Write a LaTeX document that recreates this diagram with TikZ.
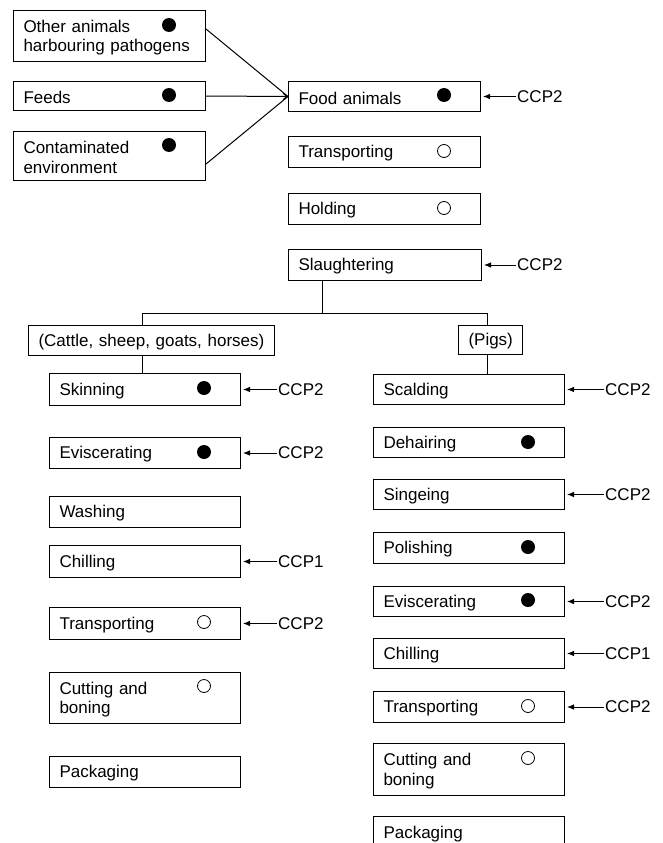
\documentclass[tikz,border=0pt]{standalone}
\usepackage{fontspec}
\setmainfont{Liberation Sans}
\usetikzlibrary{arrows.meta,calc}
\newcommand\fs{\fontsize{17}{19.5}\selectfont}
\tikzset{
  box/.style={draw, line width=1pt, anchor=north west, inner xsep=10pt, inner ysep=0pt, align=left, font=\fs, text height=15.5pt},
  dotf/.style={circle, fill, inner sep=0pt, minimum size=14pt},
  doto/.style={circle, draw, line width=0.8pt, inner sep=0pt, minimum size=13pt},
  ccp/.style={anchor=west, inner sep=0pt, font=\fs},
  link/.style={line width=1pt},
  ccparrow/.style={line width=0.8pt, -{Latex[length=7pt,width=5.5pt]}, shorten >=2pt}
}
\begin{document}
\begin{tikzpicture}[x=1pt,y=-1pt]
\fill[white] (0,0) rectangle (663,843);
\useasboundingbox (0,0) rectangle (663,843);
\clip (0,0) rectangle (663,843);

% top-left inputs
\node[box, text width=172pt, minimum height=51pt] (oth) at (13,10) {Other animals\\harbouring pathogens};
\node[box, text width=172pt, minimum height=29pt] (fee) at (13,81) {Feeds};
\node[box, text width=172pt, minimum height=49pt] (con) at (13,131) {Contaminated\\environment};

% main column
\node[box, text width=172pt, minimum height=30pt] (foo) at (288,81) {Food animals};
\node[box, text width=172pt, minimum height=31pt] (tra) at (288,136) {Transporting};
\node[box, text width=172pt, minimum height=31pt] (hol) at (288,193) {Holding};
\node[box, text width=173pt, minimum height=31pt] (sla) at (288,249) {Slaughtering};

% branches
\node[box, text width=226pt, minimum height=30pt] (cat) at (28,325) {(Cattle, sheep, goats, horses)};
\node[box, text width=44pt, minimum height=29pt, align=center] (pig) at (458,325) {(Pigs)};

% left column
\node[box, text width=171pt, minimum height=32pt] (skin) at (49,373) {Skinning};
\node[box, text width=171pt, minimum height=31pt] (evisL) at (49,437) {Eviscerating};
\node[box, text width=171pt, minimum height=31pt] (wash) at (49,496) {Washing};
\node[box, text width=171pt, minimum height=32pt] (chilL) at (49,545) {Chilling};
\node[box, text width=171pt, minimum height=32pt] (tranL) at (49,607) {Transporting};
\node[box, text width=171pt, minimum height=51pt] (cutL) at (49,672) {Cutting and\\boning};
\node[box, text width=171pt, minimum height=31pt] (packL) at (49,756) {Packaging};

% right column
\node[box, text width=171pt, minimum height=30pt] (scal) at (373,374) {Scalding};
\node[box, text width=171pt, minimum height=30pt] (deha) at (373,427) {Dehairing};
\node[box, text width=171pt, minimum height=30pt] (sing) at (373,479) {Singeing};
\node[box, text width=171pt, minimum height=31pt] (poli) at (373,532) {Polishing};
\node[box, text width=171pt, minimum height=30pt] (evisR) at (373,586) {Eviscerating};
\node[box, text width=171pt, minimum height=30pt] (chilR) at (373,638) {Chilling};
\node[box, text width=171pt, minimum height=31pt] (tranR) at (373,691) {Transporting};
\node[box, text width=171pt, minimum height=52pt] (cutR) at (373,743) {Cutting and\\boning};
\node[box, text width=171pt, minimum height=32pt] (packR) at (373,816) {Packaging};

% dots
\node[dotf] (d1) at (169,25) {};
\node[dotf] (d2) at (169,95) {};
\node[dotf] (d3) at (169,145) {};
\node[dotf] (d4) at (444,95) {};
\node[doto] (d5) at (444,151) {};
\node[doto] (d6) at (444,208) {};
\node[dotf] (d7) at (204,388) {};
\node[dotf] (d8) at (204,452) {};
\node[doto] (d9) at (204,622) {};
\node[doto] (d10) at (204,686) {};
\node[dotf] (d11) at (528,442) {};
\node[dotf] (d12) at (528,547) {};
\node[dotf] (d13) at (528,600) {};
\node[doto] (d14) at (528,706) {};
\node[doto] (d15) at (528,758) {};

% converging inputs
\draw[link] ($(oth.north east)+(0,19)$) -- (foo.west);
\draw[link, -{Straight Barb[length=4pt,width=6pt]}] (fee.east) -- (foo.west);
\draw[link] ($(con.south east)+(0,-17)$) -- (foo.west);

% tree
\coordinate (jM) at (322,313);
\coordinate (jL) at (142,313);
\coordinate (jR) at (487,313);
\draw[link] (jM |- sla.south) -- (jM);
\draw[link] (jL |- cat.north) -- (jL) -- (jR) -- (jR |- pig.north);
\draw[link] (jL |- cat.south) -- (jL |- skin.north);
\draw[link] (jR |- pig.south) -- (jR |- scal.north);

% CCP labels
\coordinate (xT) at (517,0);
\coordinate (xL) at (278,0);
\coordinate (xR) at (605,0);
\node[ccp] (c1) at (foo.east -| xT) {CCP2};
\node[ccp] (c2) at (sla.east -| xT) {CCP2};
\node[ccp] (c3) at (skin.east -| xL) {CCP2};
\node[ccp] (c4) at (evisL.east -| xL) {CCP2};
\node[ccp] (c5) at (chilL.east -| xL) {CCP1};
\node[ccp] (c6) at (tranL.east -| xL) {CCP2};
\node[ccp] (c7) at (scal.east -| xR) {CCP2};
\node[ccp] (c8) at (sing.east -| xR) {CCP2};
\node[ccp] (c9) at (evisR.east -| xR) {CCP2};
\node[ccp] (c10) at (chilR.east -| xR) {CCP1};
\node[ccp] (c11) at (tranR.east -| xR) {CCP2};

\foreach \c/\b in {c1/foo,c2/sla,c3/skin,c4/evisL,c5/chilL,c6/tranL,c7/scal,c8/sing,c9/evisR,c10/chilR,c11/tranR}
  \draw[ccparrow] ([xshift=-1pt]\c.west) -- (\c.west -| \b.east);
\end{tikzpicture}
\end{document}
